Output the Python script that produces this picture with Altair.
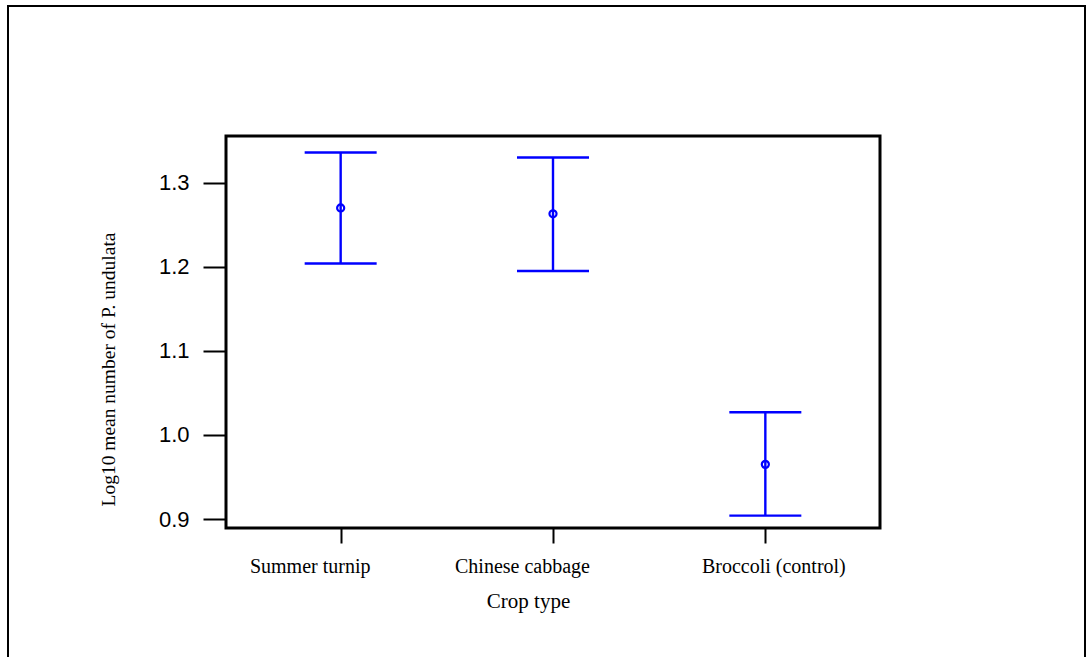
import altair as alt
import pandas as pd

crops = ["Summer turnip", "Chinese cabbage", "Broccoli (control)"]
means = [1.270, 1.263, 0.965]
lower = [1.204, 1.195, 0.904]
upper = [1.336, 1.330, 1.027]
y_ticks = [0.9, 1.0, 1.1, 1.2, 1.3]

df = pd.DataFrame({"crop": crops, "mean": means, "lower": lower, "upper": upper})

BLUE = "#0000FF"
Y_TITLE = "Log10 mean number of P. undulata"

x_axis = alt.Axis(
    title="Crop type",
    labelAngle=0,
    labelFont="Liberation Serif",
    labelFontSize=20,
    labelColor="black",
    labelPadding=13,
    labelOffset={"condition": {"test": "datum.value == 'Broccoli (control)'", "value": 8}, "value": -31},
    tickSize=15,
    tickWidth=2,
    tickColor="black",
    domain=False,
    grid=False,
    titleFont="Liberation Serif",
    titleFontSize=21,
    titleFontWeight="normal",
    titleColor="black",
    titleX=302,
    titleY=79,
    titleAlign="center",
    titleBaseline="alphabetic",
)

y_axis = alt.Axis(
    values=y_ticks,
    format=".1f",
    labelFont="Liberation Sans",
    labelFontSize=22,
    labelColor="black",
    labelPadding=14,
    tickSize=23,
    tickWidth=2,
    tickColor="black",
    domain=False,
    grid=False,
    titleFont="Liberation Serif",
    titleFontSize=19.5,
    titleFontWeight="normal",
    titleColor="black",
    titleAngle=270,
    titleX=-112,
    titleY=233,
    titleAlign="center",
    titleBaseline="alphabetic",
)

xenc = alt.X("crop:N", sort=crops, scale=alt.Scale(type="point", padding=0.54), axis=x_axis)
yscale = alt.Scale(domain=[0.8893, 1.3556], nice=False, zero=False)

base = alt.Chart(df).encode(x=xenc)

rules = base.mark_rule(color=BLUE, strokeWidth=2.4).encode(
    y=alt.Y("lower:Q", scale=yscale, axis=y_axis, title=Y_TITLE),
    y2="upper:Q",
)
caps_hi = base.mark_tick(color=BLUE, thickness=2.4, size=72, opacity=1).encode(
    y=alt.Y("upper:Q", scale=yscale, title=Y_TITLE)
)
caps_lo = base.mark_tick(color=BLUE, thickness=2.4, size=72, opacity=1).encode(
    y=alt.Y("lower:Q", scale=yscale, title=Y_TITLE)
)
pts = base.mark_point(shape="circle", filled=False, color=BLUE, strokeWidth=2.2, size=50, opacity=1).encode(
    y=alt.Y("mean:Q", scale=yscale, title=Y_TITLE)
)

border = alt.Chart(pd.DataFrame({"k": [0]})).mark_rect(
    fillOpacity=0, stroke="black", strokeWidth=2
).encode(
    x=alt.value(-218), x2=alt.value(859), y=alt.value(-130), y2=alt.value(600)
)

chart = alt.layer(border, rules, caps_hi, caps_lo, pts).properties(
    width=654,
    height=392,
    padding={"left": 226, "top": 136, "right": 212, "bottom": 129},
    autosize=alt.AutoSizeParams(type="none"),
    background="white",
).configure_view(stroke="black", strokeWidth=3)

chart.save("out.html", embed_options={"renderer": "svg", "actions": False})
